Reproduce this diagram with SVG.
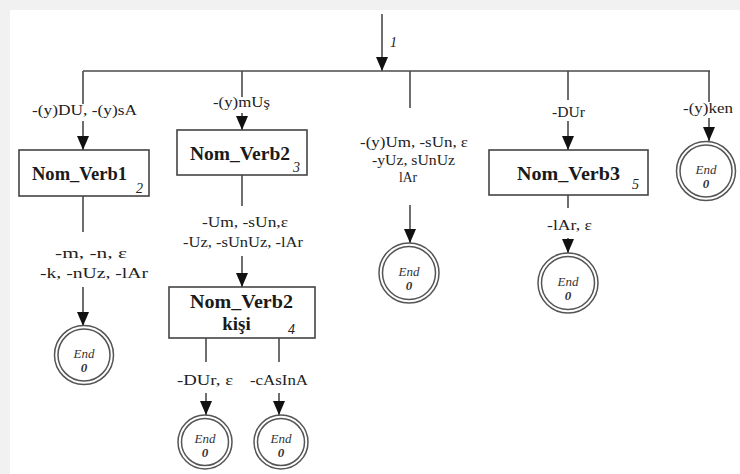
<svg xmlns="http://www.w3.org/2000/svg" width="740" height="474" viewBox="0 0 740 474" font-family="Liberation Serif, DejaVu Serif, serif">
<style>
text{font-family:'Liberation Serif','DejaVu Serif',serif}
.ln{stroke:#4a4a4a;stroke-width:1.6;fill:none}
.ar{stroke:#4a4a4a;stroke-width:1.6;fill:none;marker-end:url(#ah)}
.box{fill:#fff;stroke:#444;stroke-width:1.6}
.lb{font-size:15px;fill:#222;text-anchor:middle}
.bt{font-size:19px;font-weight:bold;fill:#1a1a1a;text-anchor:middle}
.sb{font-size:14px;font-style:italic;fill:#222}
.co{fill:#fff;stroke:#555;stroke-width:1.5}
.et{font-size:13px;font-style:italic;fill:#333;text-anchor:middle}
.ez{font-size:13px;font-style:italic;font-weight:bold;fill:#333;text-anchor:middle}
</style>
<defs>
<marker id="ah" markerUnits="userSpaceOnUse" markerWidth="14" markerHeight="12" refX="14" refY="6" orient="auto">
<path d="M0,0 L14,6 L0,12 z" fill="#111"/>
</marker>
</defs>
<rect x="0" y="0" width="740" height="474" fill="#f1f1f1"/>
<rect x="10" y="10" width="730" height="464" fill="#fff"/>

<g id="connectors">
<line class="ar" x1="382" y1="14" x2="382" y2="71"/>
<line class="ln" x1="83" y1="71" x2="710" y2="71"/>
<line class="ln" x1="83" y1="71" x2="83" y2="104"/>
<line class="ar" x1="83" y1="121" x2="83" y2="150"/>
<line class="ln" x1="83" y1="196" x2="83" y2="232"/>
<line class="ar" x1="83" y1="287" x2="83" y2="326"/>
<line class="ln" x1="242" y1="71" x2="242" y2="97"/>
<line class="ar" x1="242" y1="113" x2="242" y2="130"/>
<line class="ln" x1="242" y1="175" x2="242" y2="206"/>
<line class="ar" x1="242" y1="256" x2="242" y2="287"/>
<line class="ln" x1="410" y1="71" x2="410" y2="108"/>
<line class="ar" x1="410" y1="205" x2="410" y2="243"/>
<line class="ln" x1="568" y1="71" x2="568" y2="100"/>
<line class="ar" x1="568" y1="121" x2="568" y2="150"/>
<line class="ln" x1="568" y1="195" x2="568" y2="208"/>
<line class="ar" x1="568" y1="238" x2="568" y2="253"/>
<line class="ln" x1="709" y1="71" x2="709" y2="102"/>
<line class="ar" x1="709" y1="118" x2="709" y2="141"/>
<line class="ln" x1="206" y1="338" x2="206" y2="362"/>
<line class="ar" x1="206" y1="393" x2="206" y2="415"/>
<line class="ln" x1="279" y1="338" x2="279" y2="362"/>
<line class="ar" x1="279" y1="393" x2="279" y2="415"/>
</g>

<g id="labels">
<text class="sb" x="390" y="47">1</text>
<text class="lb" x="84.5" y="115" textLength="105" lengthAdjust="spacingAndGlyphs">-(y)DU, -(y)sA</text>
<text class="lb" x="241.5" y="107" textLength="57" lengthAdjust="spacingAndGlyphs">-(y)mUş</text>
<text class="lb" x="414" y="147" textLength="108" lengthAdjust="spacingAndGlyphs">-(y)Um, -sUn, ε</text>
<text class="lb" x="413.5" y="165" textLength="83" lengthAdjust="spacingAndGlyphs">-yUz, sUnUz</text>
<text class="lb" x="408" y="182" textLength="18" lengthAdjust="spacingAndGlyphs">lAr</text>
<text class="lb" x="568.5" y="117" textLength="33" lengthAdjust="spacingAndGlyphs">-DUr</text>
<text class="lb" x="708" y="113" textLength="50" lengthAdjust="spacingAndGlyphs">-(y)ken</text>
<text class="lb" x="91" y="258" textLength="72" lengthAdjust="spacingAndGlyphs">-m, -n, ε</text>
<text class="lb" x="94" y="278" textLength="108" lengthAdjust="spacingAndGlyphs">-k, -nUz, -lAr</text>
<text class="lb" x="245" y="227" textLength="86" lengthAdjust="spacingAndGlyphs">-Um, -sUn,ε</text>
<text class="lb" x="243" y="247" textLength="120" lengthAdjust="spacingAndGlyphs">-Uz, -sUnUz, -lAr</text>
<text class="lb" x="569.5" y="230" textLength="45" lengthAdjust="spacingAndGlyphs">-lAr, ε</text>
<text class="lb" x="205" y="385" textLength="56" lengthAdjust="spacingAndGlyphs">-DUr, ε</text>
<text class="lb" x="279" y="385" textLength="58" lengthAdjust="spacingAndGlyphs">-cAsInA</text>
</g>

<g id="nom_verb1">
<rect class="box" x="19" y="150" width="130" height="46"/>
<text class="bt" x="79.5" y="180" textLength="95" lengthAdjust="spacingAndGlyphs">Nom_Verb1</text>
<text class="sb" x="136" y="193">2</text>
</g>
<g id="nom_verb2">
<rect class="box" x="177" y="130" width="130" height="45"/>
<text class="bt" x="240" y="160" textLength="100" lengthAdjust="spacingAndGlyphs">Nom_Verb2</text>
<text class="sb" x="293" y="172">3</text>
</g>
<g id="nom_verb2_kisi">
<rect class="box" x="169" y="287" width="146" height="51"/>
<text class="bt" x="241.5" y="308" textLength="103" lengthAdjust="spacingAndGlyphs">Nom_Verb2</text>
<text class="bt" x="236.5" y="330">kişi</text>
<text class="sb" x="288" y="334">4</text>
</g>
<g id="nom_verb3">
<rect class="box" x="489" y="150" width="159" height="45"/>
<text class="bt" x="568.5" y="180" textLength="103" lengthAdjust="spacingAndGlyphs">Nom_Verb3</text>
<text class="sb" x="632" y="189">5</text>
</g>

<g id="end1">
<circle class="co" cx="84" cy="355" r="29.5"/><circle class="co" cx="84" cy="355" r="26"/>
<text class="et" x="84" y="358">End</text><text class="ez" x="84" y="372">0</text>
</g>
<g id="end2">
<circle class="co" cx="409" cy="273" r="30"/><circle class="co" cx="409" cy="273" r="26.5"/>
<text class="et" x="409" y="276">End</text><text class="ez" x="409" y="290">0</text>
</g>
<g id="end3">
<circle class="co" cx="568" cy="283" r="30"/><circle class="co" cx="568" cy="283" r="26.5"/>
<text class="et" x="568" y="286">End</text><text class="ez" x="568" y="300">0</text>
</g>
<g id="end4">
<circle class="co" cx="706" cy="171" r="29.5"/><circle class="co" cx="706" cy="171" r="26"/>
<text class="et" x="706" y="174">End</text><text class="ez" x="706" y="188">0</text>
</g>
<g id="end5">
<circle class="co" cx="205" cy="442" r="27"/><circle class="co" cx="205" cy="442" r="23.5"/>
<text class="et" x="205" y="443">End</text><text class="ez" x="205" y="457">0</text>
</g>
<g id="end6">
<circle class="co" cx="281" cy="442" r="27"/><circle class="co" cx="281" cy="442" r="23.5"/>
<text class="et" x="281" y="443">End</text><text class="ez" x="281" y="457">0</text>
</g>
</svg>
